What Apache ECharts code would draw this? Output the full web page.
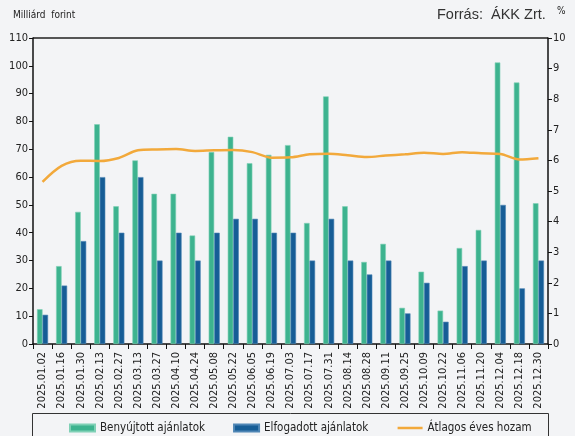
<!DOCTYPE html>
<html><head><meta charset="utf-8">
<script src="https://cdn.jsdelivr.net/npm/echarts@6/dist/echarts.min.js"></script>
<style>html,body{margin:0;padding:0;background:#f3f4f6}#c{width:575px;height:436px}</style>
</head><body><div id="c"></div>
<script>
const categories = ["2025.01.02","2025.01.16","2025.01.30","2025.02.13","2025.02.27","2025.03.13","2025.03.27","2025.04.10","2025.04.24","2025.05.08","2025.05.22","2025.06.05","2025.06.19","2025.07.03","2025.07.17","2025.07.31","2025.08.14","2025.08.28","2025.09.11","2025.09.25","2025.10.09","2025.10.22","2025.11.06","2025.11.20","2025.12.04","2025.12.18","2025.12.30"];
const submitted = [12.5,28,47.5,79,49.5,66,54,54,39,69,74.5,65,68,71.5,43.5,89,49.5,29.5,36,13,26,12,34.5,41,101.2,94,50.6];
const accepted = [10.5,21,37,60,40,60,30,40,30,40,45,45,40,40,30,45,30,25,30,11,22,8,28,30,50,20,30];
const yieldPct = [5.3,5.82,5.99,5.98,6.08,6.33,6.36,6.37,6.31,6.33,6.34,6.27,6.09,6.1,6.2,6.22,6.17,6.11,6.16,6.2,6.25,6.21,6.27,6.23,6.21,6.03,6.07];
const leftTicks = {min:0,max:110,interval:10};
const rightTicks = {min:0,max:10,interval:1};

const font = "'DejaVu Sans Condensed', 'DejaVu Sans', sans-serif";
const font2 = "'Liberation Sans', Arial, sans-serif";
const chart = echarts.init(document.getElementById('c'));
chart.setOption({
  backgroundColor:'#f3f4f6',
  animation:false,
  textStyle:{fontFamily:font},
  grid:{left:33,right:27,top:38,bottom:92,show:true,borderColor:'#555',borderWidth:0},
  graphic:[
    {type:'line',shape:{x1:33,y1:38,x2:548,y2:38},style:{stroke:'#555',lineWidth:2}},
    {type:'text',left:13,top:10,style:{text:'Milliárd  forint',font:"10px "+font,fill:'#222'}},
    {type:'text',left:437,top:7,style:{text:'Forrás:  ÁKK Zrt.',font:"14.5px "+font2,fill:'#333'}},
    {type:'text',left:557,top:6,style:{text:'%',font:"10px "+font,fill:'#222'}},
    {type:'rect',shape:{x:32.5,y:413.5,width:516,height:30},style:{fill:'none',stroke:'#333',lineWidth:1}}
  ],
  legend:{
    top:417,left:64,itemGap:28,itemWidth:25,itemHeight:7,
    textStyle:{fontSize:11.5,color:'#222',fontFamily:font},
    data:[
      {name:'Benyújtott ajánlatok',icon:'rect'},
      {name:'Elfogadott ajánlatok',icon:'rect'},
      {name:'Átlagos éves hozam',itemStyle:{opacity:0},lineStyle:{width:2.5,color:'#f2a93b'}}
    ]
  },
  xAxis:{
    type:'category',data:categories,boundaryGap:true,
    axisLine:{lineStyle:{color:'#111',width:1.5}},
    axisTick:{show:true,alignWithLabel:false,length:5,lineStyle:{color:'#111'}},
    axisLabel:{rotate:90,fontSize:11,color:'#222',interval:0,margin:8,fontFamily:font}
  },
  yAxis:[
    {type:'value',min:leftTicks.min,max:leftTicks.max,interval:leftTicks.interval,
     axisLine:{show:true,lineStyle:{color:'#111',width:1.5}},
     axisTick:{show:true,length:4,lineStyle:{color:'#111'}},
     splitLine:{show:false},
     axisLabel:{fontSize:11,color:'#222',margin:5}},
    {type:'value',min:rightTicks.min,max:rightTicks.max,interval:rightTicks.interval,position:'right',
     axisLine:{show:true,lineStyle:{color:'#111',width:1.5}},
     axisTick:{show:true,length:4,lineStyle:{color:'#111'}},
     splitLine:{show:false},
     axisLabel:{fontSize:11,color:'#222',margin:5}}
  ],
  series:[
    {name:'Benyújtott ajánlatok',type:'bar',data:submitted,barGap:'0%',barCategoryGap:'42%',
     itemStyle:{color:'#3db38f',borderColor:'#7fd0b5',borderWidth:0.6}},
    {name:'Elfogadott ajánlatok',type:'bar',data:accepted,
     itemStyle:{color:'#165d96',borderColor:'#4f86b5',borderWidth:0.6}},
    {name:'Átlagos éves hozam',type:'line',yAxisIndex:1,data:yieldPct,smooth:0.3,
     symbol:'none',lineStyle:{color:'#f2a93b',width:2.5},itemStyle:{color:'#f2a93b'}}
  ]
});
</script></body></html>
